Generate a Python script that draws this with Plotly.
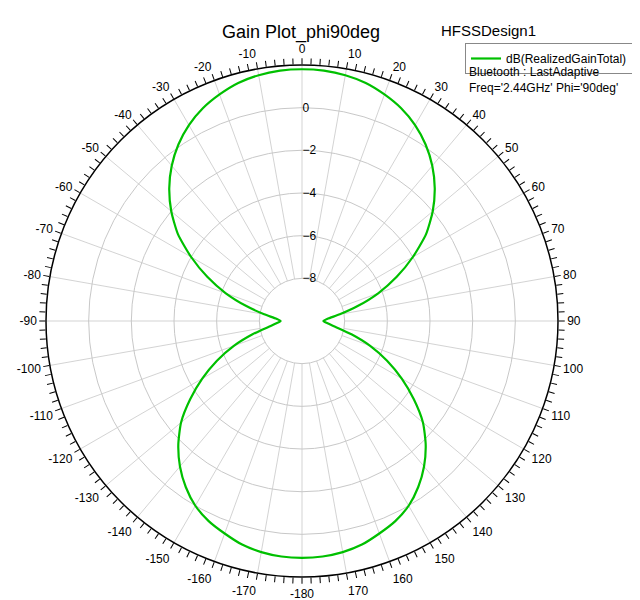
import plotly.graph_objects as go

theta_deg = [0,5,10,15,20,25,30,35,40,45,50,55,60,65,70,75,80,85,90,
             95,100,105,110,115,120,125,130,135,140,145,150,155,160,165,170,175,180]
gain_right = [1.8,1.78,1.7,1.55,1.3,1.0,0.6,0.1,-0.5,-1.2,-2.0,-2.9,-4.0,-5.1,-6.2,-7.3,-8.2,-8.8,-9.0,
              -8.8,-8.4,-7.6,-6.6,-5.6,-4.6,-3.6,-2.6,-1.8,-1.1,-0.5,0.0,0.35,0.6,0.85,1.0,1.08,1.1]
angle_labels = [0,10,20,30,40,50,60,70,80,90,100,110,120,130,140,150,160,170,-180,
                -170,-160,-150,-140,-130,-120,-110,-100,-90,-80,-70,-60,-50,-40,-30,-20,-10]
radial_ticks = [-8,-6,-4,-2,0]
rmin, rmax = -10, 2

th = theta_deg + [360 - t for t in reversed(theta_deg[:-1])]
g = gain_right + list(reversed(gain_right[:-1]))

fig = go.Figure()
grey = "#c8c8c8"
for a in range(0, 360, 10):
    fig.add_trace(go.Scatterpolar(r=[-8, rmax], theta=[a, a], mode="lines",
                                  line=dict(color=grey, width=0.8), showlegend=False, hoverinfo="skip"))
fig.add_trace(go.Scatterpolar(r=g, theta=th, mode="lines",
                              line=dict(color="#00c000", width=2.2, shape="spline", smoothing=0.6),
                              name="dB(RealizedGainTotal)"))

tv = list(range(0, 360, 2))
tt = [str(angle_labels[v // 10]) if v % 10 == 0 else "" for v in tv]

L, R, T, B = 38, 90, 57, 31
S = 640 - L - R
fig.update_layout(
    width=640, height=600, paper_bgcolor="white", plot_bgcolor="white",
    margin=dict(l=L, r=R, t=T, b=B),
    font=dict(family="Arial, Liberation Sans", size=12, color="black"),
    polar=dict(
        bgcolor="white",
        angularaxis=dict(rotation=90, direction="clockwise", tickmode="array", tickvals=tv, ticktext=tt,
                         ticks="outside", ticklen=6, tickcolor="black", showgrid=False,
                         linecolor="black", linewidth=1.5, tickfont=dict(size=12)),
        radialaxis=dict(range=[rmin, rmax], tickvals=radial_ticks, angle=90, tickangle=90,
                        showline=False, ticks="", gridcolor=grey, tickfont=dict(size=12)),
    ),
    showlegend=True,
    legend=dict(x=(457-L)/S, y=1+(T-35)/S, xanchor="left", yanchor="top",
                bordercolor="#888", borderwidth=1, bgcolor="white", font=dict(size=12)),
)
fig.add_annotation(text="Gain Plot_phi90deg", x=(293-L)/S, y=1+(T-12)/S, xref="paper", yref="paper",
                   showarrow=False, font=dict(size=18))
fig.add_annotation(text="HFSSDesign1", x=(530-L)/S, y=1+(T-12)/S, xref="paper", yref="paper",
                   showarrow=False, font=dict(size=15))
fig.add_annotation(text="Bluetooth : LastAdaptive<br>Freq='2.44GHz' Phi='90deg'", xref="paper", yref="paper",
                   x=(459-L)/S, y=1+(T-55)/S, xanchor="left", yanchor="top", showarrow=False,
                   align="left", font=dict(size=12))
fig.write_html("out.html")
